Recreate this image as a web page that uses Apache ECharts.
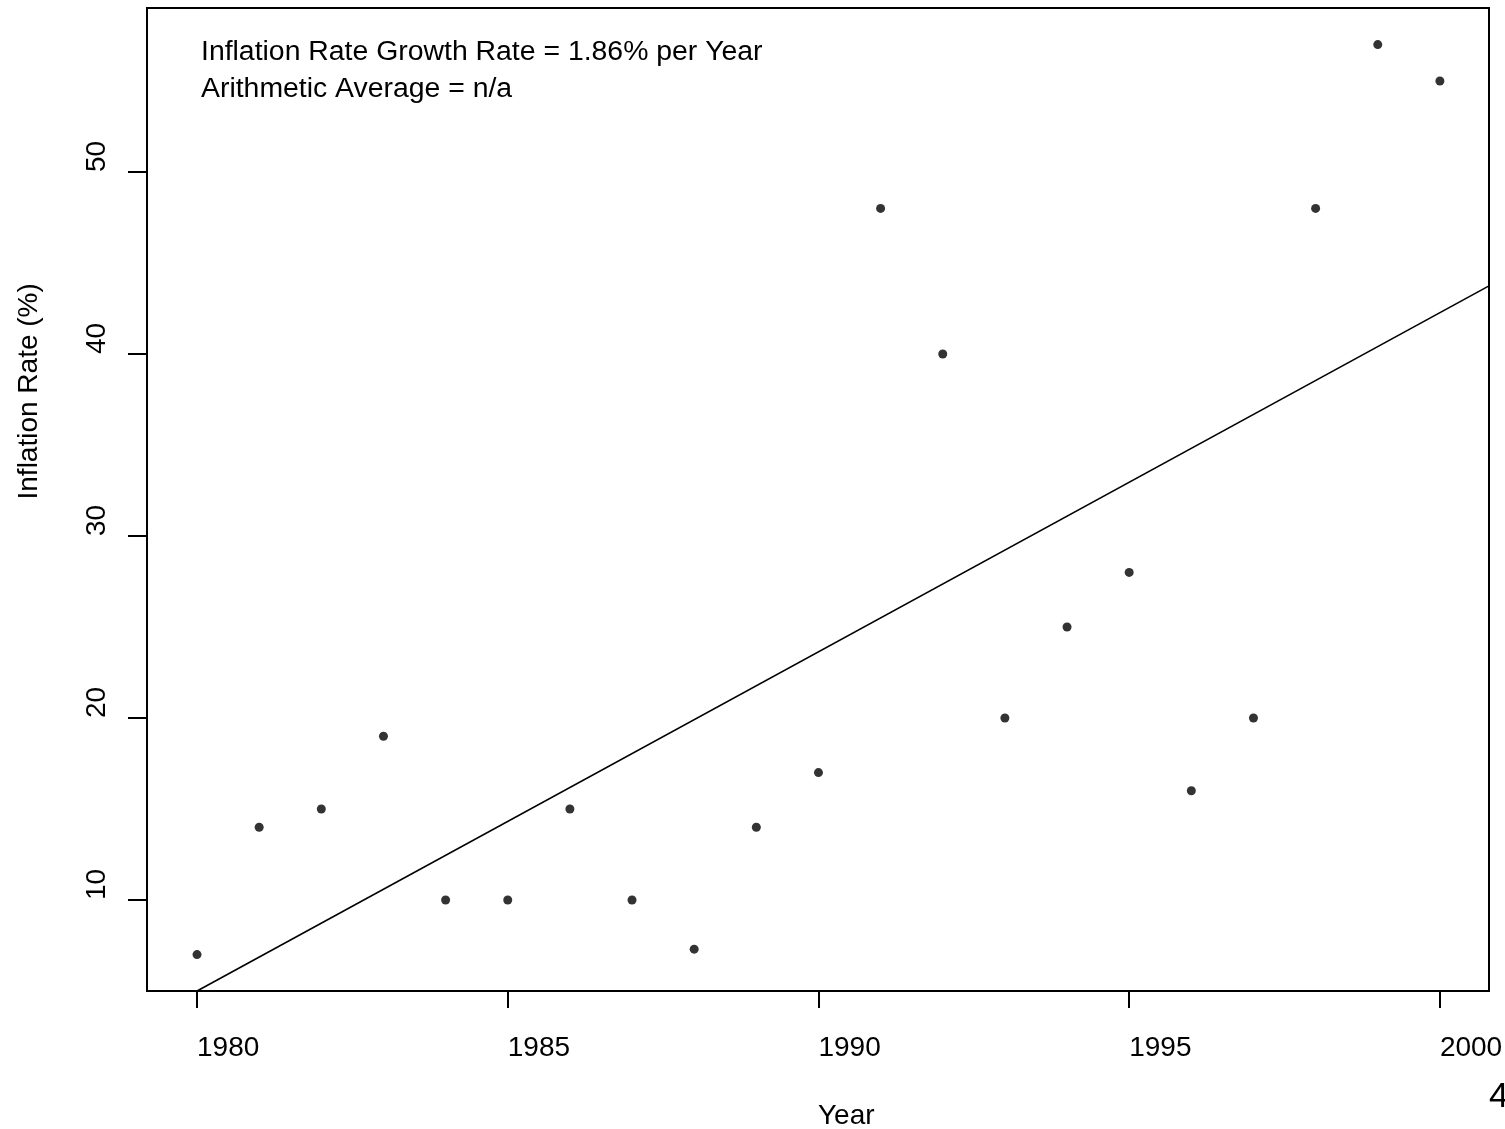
<!DOCTYPE html>
<html>
<head>
<meta charset="utf-8">
<script src="https://cdn.jsdelivr.net/npm/echarts@6/dist/echarts.min.js"></script>
<style>
html,body{margin:0;padding:0;background:#fff;}
#chart{width:1505px;height:1129px;}
</style>
</head>
<body>
<div id="chart"></div>
<script>
const years = [1980,1981,1982,1983,1984,1985,1986,1987,1988,1989,1990,1991,1992,1993,1994,1995,1996,1997,1998,1999,2000];
const inflation = [7,14,15,19,10,10,15,10,7.3,14,17,48,40,20,25,28,16,20,48,57,55];
const trendX = [1980, 2000.79];
const trendY = [5.0, 43.74];
const xTicks = [1980,1985,1990,1995,2000];
const yTicks = [10,20,30,40,50];
const annotation = ['Inflation Rate Growth Rate = 1.86% per Year', 'Arithmetic Average = n/a'];

const FONT = '"Liberation Sans", Arial, sans-serif';
const chart = echarts.init(document.getElementById('chart'), null, {renderer:'canvas'});
chart.setOption({
  backgroundColor: '#ffffff',
  animation: false,
  grid: {left:147, right:16, top:8, bottom:138, outerBoundsMode:'none', containLabel:false, show:true, borderColor:'#000', borderWidth:2, backgroundColor:'transparent'},
  xAxis: {
    type:'value', min:1979.195, max:2000.79,
    name:'Year', nameLocation:'middle', nameGap:125,
    nameTextStyle:{fontFamily:FONT, fontSize:28, color:'#000', align:'left', verticalAlign:'middle'},
    axisLine:{show:false},
    splitLine:{show:false},
    axisTick:{show:true, customValues:xTicks, length:17, lineStyle:{color:'#000', width:2}},
    axisLabel:{customValues:xTicks, fontFamily:FONT, fontSize:28, color:'#000', align:'left', verticalAlign:'top', margin:43, formatter: v => String(v)}
  },
  yAxis: {
    type:'value', min:5, max:59.01,
    name:'Inflation Rate (%)', nameLocation:'middle', nameGap:118, nameRotate:90,
    nameTextStyle:{fontFamily:FONT, fontSize:28, color:'#000', align:'left', verticalAlign:'middle'},
    axisLine:{show:false},
    splitLine:{show:false},
    axisTick:{show:true, customValues:yTicks, length:19, lineStyle:{color:'#000', width:2}},
    axisLabel:{customValues:yTicks, rotate:90, fontFamily:FONT, fontSize:28, color:'#000', align:'left', verticalAlign:'middle', margin:50, formatter: v => String(v)}
  },
  graphic: [
    {type:'text', left:201, top:38, style:{text:annotation[0], font:'28.4px '+FONT, fill:'#000'}},
    {type:'text', left:201, top:75, style:{text:annotation[1], font:'28.4px '+FONT, fill:'#000'}},
    {type:'text', left:1489, top:1080, style:{text:'4', font:'35px '+FONT, fill:'#000'}}
  ],
  series: [
    {type:'line', data: trendX.map((x,i)=>[x, trendY[i]]), symbol:'none', lineStyle:{color:'#000', width:1.6}, clip:true, silent:true},
    {type:'scatter', data: years.map((y,i)=>[y, inflation[i]]), symbol:'circle', symbolSize:9, itemStyle:{color:'#000'}, silent:true}
  ]
});
</script>
</body>
</html>
